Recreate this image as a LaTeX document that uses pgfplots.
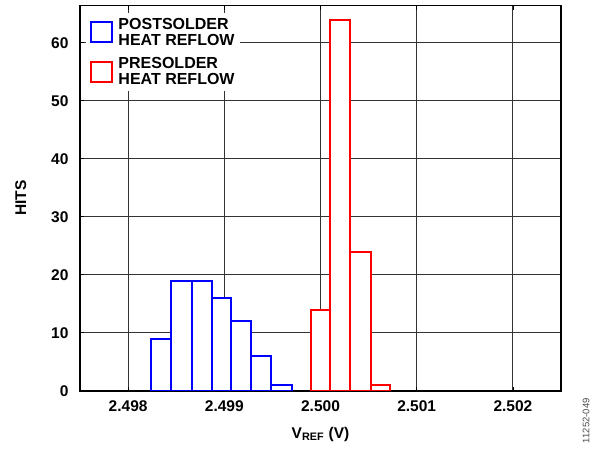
\documentclass[border=0pt]{standalone}
\usepackage{pgfplots}
\pgfplotsset{compat=1.18}
\usepackage{fontspec}
\setmainfont{Liberation Sans}

\begin{document}
\begin{tikzpicture}[font=\fontsize{15.5}{18}\selectfont\bfseries]
\begin{axis}[
  scale only axis, width=481pt, height=385pt,
  xmin=2.4975, xmax=2.5025, ymin=0, ymax=66.4,
  xtick={2.498,2.499,2.500,2.501,2.502},
  xticklabels={2.498,2.499,2.500,2.501,2.502},
  ytick={0,10,20,30,40,50,60},
  /pgf/number format/assume math mode=true,
  tick label style={font=\fontsize{15.5}{18}\selectfont\bfseries},
  xticklabel style={yshift=-6pt},
  yticklabel style={xshift=-8pt},
  grid=major, grid style={black!80, line width=1.1pt},
  axis line style={black, line width=1.6pt},
  tick style={black, line width=0.8pt},
  tick align=inside, major tick length=4pt,
  xtick pos=both, ytick pos=left,
  xlabel={V\textsubscript{REF} (V)},
  ylabel={HITS},
  xlabel style={yshift=-9pt},
  ylabel style={yshift=18pt},
  legend cell align=left,
  legend image code/.code={\draw[#1, fill=white, line width=2pt] (0pt,-10pt) rectangle (21pt,10pt); \path (25pt,0pt);},
  legend style={at={(axis description cs:0.012,0.982)}, anchor=north west,
    draw=none, fill=white, inner xsep=4pt, inner ysep=4pt,
    row sep=8pt, nodes={align=left, inner sep=1.5pt, font=\fontsize{16}{15.5}\selectfont\bfseries}},
]
% white fills first, outlines drawn on top
\addplot[ybar interval, draw=none, fill=white, forget plot] coordinates {
  (2.49824,9) (2.49845,19) (2.49866,19) (2.49887,16) (2.49907,12)
  (2.49928,6) (2.49949,1) (2.49970,0)
};
\addplot[ybar interval, draw=none, fill=white, forget plot] coordinates {
  (2.49990,14) (2.50010,64) (2.50031,24) (2.50052,1) (2.50072,0)
};
\addplot[ybar interval, draw=blue, fill=none, line width=2pt] coordinates {
  (2.49824,9) (2.49845,19) (2.49866,19) (2.49887,16) (2.49907,12)
  (2.49928,6) (2.49949,1) (2.49970,0)
};
\addlegendentry{POSTSOLDER\\HEAT REFLOW}
\addplot[ybar interval, draw=red, fill=none, line width=2pt] coordinates {
  (2.49990,14) (2.50010,64) (2.50031,24) (2.50052,1) (2.50072,0)
};
\addlegendentry{PRESOLDER\\HEAT REFLOW}
\end{axis}
\node[rotate=90, font=\fontsize{9.5}{11}\selectfont, text=black!70] at ([xshift=25pt,yshift=-30pt]current axis.south east) {11252-049};
\path ([xshift=-80pt,yshift=-57.3pt]current axis.south west) rectangle ([xshift=37pt,yshift=5.7pt]current axis.north east);
\end{tikzpicture}
\end{document}
